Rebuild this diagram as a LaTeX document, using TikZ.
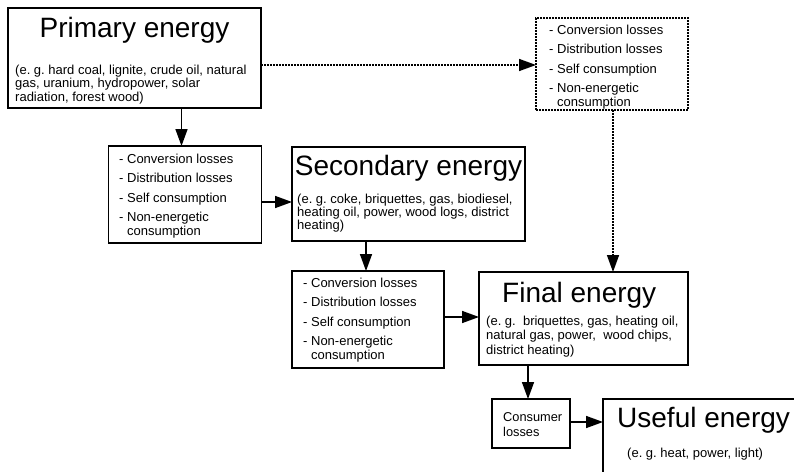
\documentclass[tikz,border=0pt]{standalone}
\usepackage{fontspec}
\setmainfont{Liberation Sans}
\usetikzlibrary{arrows.meta}
\begin{document}
\frenchspacing
\begin{tikzpicture}[x=1pt,y=-1pt,
  box/.style={draw, line width=1.8pt, inner sep=0pt, outer sep=0pt},
  dbox/.style={draw, line width=1.5pt, dash pattern=on 1.6pt off 1.4pt, inner sep=0pt, outer sep=0pt},
  arr/.style={line width=1.6pt, -{Triangle[length=17pt,width=12pt]}},
  darr/.style={line width=1.5pt, dash pattern=on 1.6pt off 1.4pt, -{Triangle[length=17pt,width=12pt]}},
  title/.style={font=\fontsize{28}{32}\selectfont, inner sep=0pt, anchor=base},
  txt/.style={font=\fontsize{13}{13.5}\selectfont, inner sep=0pt, anchor=base west},
]
\useasboundingbox (0,0) rectangle (794,471);
\clip (0,0) rectangle (794,471);

% boxes
\node[box, minimum width=253, minimum height=100] (prim) at (134.5,58) {};
\node[box, minimum width=153, minimum height=97] (loss1) at (185,194.5) {};
\node[box, minimum width=233, minimum height=94] (sec) at (408.5,194) {};
\node[box, minimum width=152, minimum height=97] (loss2) at (368,319.5) {};
\node[box, minimum width=209, minimum height=93] (fin) at (583.5,318.5) {};
\node[dbox, minimum width=152, minimum height=92] (dot) at (612,64) {};
\node[box, minimum width=78, minimum height=49] (cons) at (531,423.5) {};
\node[box, minimum width=220, minimum height=100] (use) at (713,449) {};

% texts
\node[title] (primT) at (134.5,37) {Primary energy};
\node[txt] (primB) at (15,74) {\fontsize{13}{13.5}\selectfont\begin{tabular}[t]{@{}l@{}}(e. g. hard coal, lignite, crude oil, natural\\gas, uranium, hydropower, solar\\radiation, forest wood)\end{tabular}};

\node[txt] (loss1T) at (119,163) {\begin{tabular}[t]{@{}l@{}}- Conversion losses\\[6pt]- Distribution losses\\[6pt]- Self consumption\\[6pt]- Non-energetic\\\phantom{- }consumption\end{tabular}};

\node[title] (secT) at (408.5,175) {Secondary energy};
\node[txt] (secB) at (297,203) {\fontsize{13}{12.5}\selectfont\begin{tabular}[t]{@{}l@{}}(e. g. coke, briquettes, gas, biodiesel,\\heating oil, power, wood logs, district\\heating)\end{tabular}};

\node[txt] (loss2T) at (303,287) {\begin{tabular}[t]{@{}l@{}}- Conversion losses\\[6pt]- Distribution losses\\[6pt]- Self consumption\\[6pt]- Non-energetic\\\phantom{- }consumption\end{tabular}};

\node[txt] (dotT) at (549,34) {\begin{tabular}[t]{@{}l@{}}- Conversion losses\\[6pt]- Distribution losses\\[6pt]- Self consumption\\[6pt]- Non-energetic\\\phantom{- }consumption\end{tabular}};

\node[title, anchor=base west] (finT) at (502,302) {Final energy};
\node[txt] (finB) at (486,325) {\fontsize{13}{14.5}\selectfont\begin{tabular}[t]{@{}l@{}}(e. g.\ \ briquettes, gas, heating oil,\\natural gas, power,\ \ wood chips,\\district heating)\end{tabular}};

\node[txt] (consT) at (503,421) {\fontsize{12.8}{15}\selectfont\begin{tabular}[t]{@{}l@{}}Consumer\\losses\end{tabular}};

\node[title, anchor=base west] (useT) at (617,427) {Useful energy};
\node[txt] (useB) at (627,457) {(e. g. heat, power, light)};

% connectors
\draw[arr] ([xshift=-3.5pt]loss1.north |- prim.south) -- ([xshift=-3.5pt]loss1.north);
\draw[arr] ([yshift=-7.5pt]loss1.east) -- ([yshift=-7.5pt]loss1.east -| sec.west);
\draw[arr] ([xshift=-2pt]loss2.north |- sec.south) -- ([xshift=-2pt]loss2.north);
\draw[arr] ([yshift=2.5pt]loss2.east) -- ([yshift=2.5pt]loss2.east -| fin.west);
\draw[darr] ([yshift=-1pt]dot.west -| prim.east) -- ([yshift=-1pt]dot.west);
\draw[darr] ([xshift=1pt]dot.south) -- ([xshift=1pt]dot.south |- fin.north);
\draw[arr] ([xshift=-3pt]cons.north |- fin.south) -- ([xshift=-3pt]cons.north);
\draw[arr] ([yshift=1.5pt]cons.east) -- ([yshift=1.5pt]cons.east -| use.west);
\end{tikzpicture}
\end{document}
